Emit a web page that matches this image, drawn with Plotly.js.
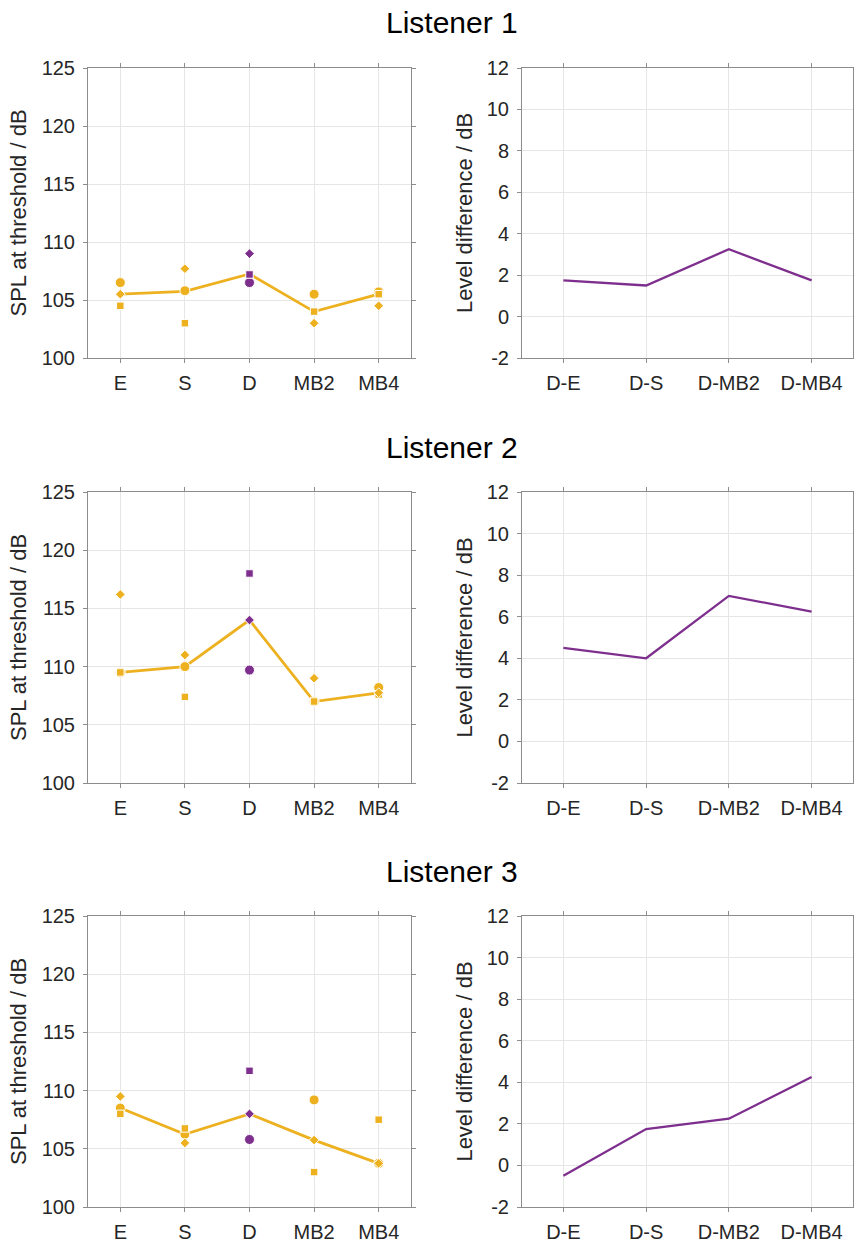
<!DOCTYPE html>
<html>
<head>
<meta charset="utf-8">
<script src="https://cdn.plot.ly/plotly-3.0.1.min.js"></script>
<style>html,body{margin:0;padding:0;background:#fff;}#chart{width:854px;height:1243px;}</style>
</head>
<body>
<div id="chart"></div>
<script>
// ---- data ----
const categories = ['E', 'S', 'D', 'MB2', 'MB4'];
const diffCategories = ['D-E', 'D-S', 'D-MB2', 'D-MB4'];
const listenerNames = ['Listener 1', 'Listener 2', 'Listener 3'];
const splTicks = [100, 105, 110, 115, 120, 125];
const diffTicks = [-2, 0, 2, 4, 6, 8, 10, 12];

// Listener 1
const L1_circle  = [106.5, 105.8, 106.5, 105.5, 105.7];
const L1_square  = [104.5, 103.0, 107.2, 104.0, 105.5];
const L1_diamond = [105.5, 107.7, 109.0, 103.0, 104.5];
const L1_median  = [105.5, 105.75, 107.25, 104.0, 105.5];
const L1_diff    = [1.75, 1.5, 3.25, 1.75];

// Listener 2
const L2_circle  = [109.5, 110.0, 109.7, 107.0, 108.2];
const L2_square  = [109.5, 107.4, 118.0, 107.0, 107.6];
const L2_diamond = [116.2, 111.0, 114.0, 109.0, 107.75];
const L2_median  = [109.5, 110.0, 114.0, 107.0, 107.75];
const L2_diff    = [4.5, 4.0, 7.0, 6.25];

// Listener 3
const L3_circle  = [108.5, 106.25, 105.8, 109.2, 103.75];
const L3_square  = [108.0, 106.75, 111.7, 103.0, 107.5];
const L3_diamond = [109.5, 105.5, 108.0, 105.75, 103.75];
const L3_median  = [108.5, 106.25, 108.0, 105.75, 103.75];
const L3_diff    = [-0.5, 1.75, 2.25, 4.25];

const listeners = [
  {circle: L1_circle, square: L1_square, diamond: L1_diamond, median: L1_median, diff: L1_diff},
  {circle: L2_circle, square: L2_square, diamond: L2_diamond, median: L2_median, diff: L2_diff},
  {circle: L3_circle, square: L3_square, diamond: L3_diamond, median: L3_median, diff: L3_diff}
];

// ---- style ----
const GOLD = '#EDB120';
const PURPLE = '#7E2F8E';
const FONT = 'Liberation Sans, Arial, Helvetica, sans-serif';
const TXT = '#262626';
const W = 854, H = 1243;
const pointColors = categories.map(c => c === 'D' ? PURPLE : GOLD);

// pixel geometry -> domains
const rowsPx = [[68, 358], [492, 783], [916, 1207]];
const leftX = [88 / W, 411 / W];
const rightX = [522 / W, 853 / W];
const titleY = [22, 447, 871];

const traces = [];
const layout = {
  width: W, height: H,
  margin: {l: 0, r: 0, t: 0, b: 0},
  paper_bgcolor: '#fff', plot_bgcolor: '#fff',
  showlegend: false,
  font: {family: FONT, color: TXT, size: 20},
  annotations: []
};

function axisCommon() {
  return {
    showline: true, linecolor: '#8c8c8c', linewidth: 1, mirror: 'ticks',
    ticks: 'outside', ticklen: 4, tickcolor: '#8c8c8c', tickwidth: 1,
    showgrid: true, gridcolor: '#e6e6e6', gridwidth: 1,
    zeroline: false, fixedrange: true,
    tickfont: {family: FONT, size: 20, color: TXT}
  };
}

listeners.forEach((L, i) => {
  const xl = 'x' + (2 * i + 1), yl = 'y' + (2 * i + 1);
  const xr = 'x' + (2 * i + 2), yr = 'y' + (2 * i + 2);
  const kxl = 'xaxis' + (2 * i + 1), kyl = 'yaxis' + (2 * i + 1);
  const kxr = 'xaxis' + (2 * i + 2), kyr = 'yaxis' + (2 * i + 2);
  const dom = [(H - rowsPx[i][1]) / H, (H - rowsPx[i][0]) / H];

  // left panel
  traces.push({x: categories, y: L.median, xaxis: xl, yaxis: yl, type: 'scatter', mode: 'lines',
    line: {color: GOLD, width: 2.8}, hoverinfo: 'skip'});
  traces.push({x: categories, y: L.circle, xaxis: xl, yaxis: yl, type: 'scatter', mode: 'markers',
    marker: {symbol: 'circle', size: 10, color: pointColors, line: {color: '#fff', width: 1}}});
  traces.push({x: categories, y: L.square, xaxis: xl, yaxis: yl, type: 'scatter', mode: 'markers',
    marker: {symbol: 'square', size: 7.5, color: pointColors, line: {color: '#fff', width: 1}}});
  traces.push({x: categories, y: L.diamond, xaxis: xl, yaxis: yl, type: 'scatter', mode: 'markers',
    marker: {symbol: 'diamond', size: 7.5, color: pointColors, line: {color: '#fff', width: 1}}});

  // right panel
  traces.push({x: diffCategories, y: L.diff, xaxis: xr, yaxis: yr, type: 'scatter', mode: 'lines',
    line: {color: PURPLE, width: 2.3}});

  layout[kxl] = Object.assign(axisCommon(), {domain: leftX, anchor: yl, type: 'category',
    range: [-0.5, 4.5], ticklabelstandoff: 3});
  layout[kyl] = Object.assign(axisCommon(), {domain: dom, anchor: xl, range: [100, 125],
    tickvals: splTicks, ticktext: splTicks.map(String), ticklabelstandoff: 4,
    title: {text: 'SPL at threshold / dB', font: {family: FONT, size: 22, color: TXT}, standoff: 8}});
  layout[kxr] = Object.assign(axisCommon(), {domain: rightX, anchor: yr, type: 'category',
    range: [-0.5, 3.5], ticklabelstandoff: 3});
  layout[kyr] = Object.assign(axisCommon(), {domain: dom, anchor: xr, range: [-2, 12],
    tickvals: diffTicks, ticktext: diffTicks.map(String), ticklabelstandoff: 4,
    title: {text: 'Level difference / dB', font: {family: FONT, size: 22, color: TXT}, standoff: 8}});

  layout.annotations.push({text: listenerNames[i], xref: 'paper', yref: 'paper',
    x: 452 / W, y: 1 - titleY[i] / H, xanchor: 'center', yanchor: 'middle', showarrow: false,
    font: {family: FONT, size: 30, color: '#000'}});
});

Plotly.newPlot('chart', traces, layout, {displayModeBar: false, staticPlot: true});
</script>
</body>
</html>
